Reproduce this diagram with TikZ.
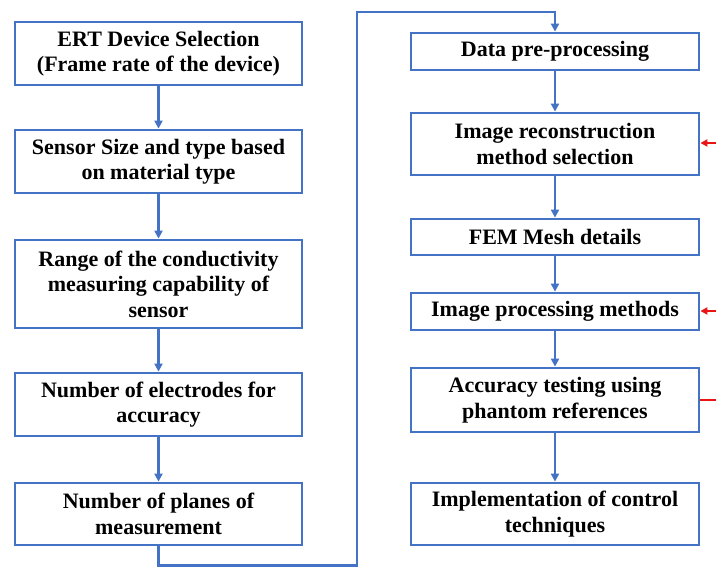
\documentclass[tikz,border=0pt]{standalone}
\usepackage{fontspec}
\setmainfont{Liberation Serif}
\usetikzlibrary{arrows.meta}
\definecolor{boxblue}{RGB}{68,114,196}
\definecolor{fbred}{RGB}{235,20,20}
\tikzset{
  stepbox/.style={draw=boxblue, line width=2.8pt, align=center, inner sep=0pt,
    font=\fontsize{22}{25.5}\selectfont\bfseries},
  conn/.style={draw=boxblue, line width=2.5pt, -{Triangle[length=8pt,width=8pt]}},
  redin/.style={draw=fbred, line width=2pt, -{Triangle[length=7pt,width=7pt]}},
}
\begin{document}
\begin{tikzpicture}[x=1pt,y=-1pt]
\useasboundingbox (0,0) rectangle (716,567);
% left column
\node[stepbox, minimum width=287pt, minimum height=63pt] (b1) at (158.5,53.5) {ERT Device Selection\\(Frame rate of the device)};
\node[stepbox, minimum width=287pt, minimum height=63pt] (b2) at (158.5,161.5) {Sensor Size and type based\\on material type};
\node[stepbox, minimum width=287pt, minimum height=88pt] (b3) at (158.5,284) {Range of the conductivity\\measuring capability of\\sensor};
\node[stepbox, minimum width=287pt, minimum height=63pt] (b4) at (158.5,404.5) {Number of electrodes for\\accuracy};
\node[stepbox, minimum width=287pt, minimum height=62pt] (b5) at (158.5,514) {Number of planes of\\measurement};
% right column
\node[stepbox, minimum width=288pt, minimum height=37pt] (r1) at (555,51.5) {Data pre-processing};
\node[stepbox, minimum width=288pt, minimum height=62pt] (r2) at (555,144) {Image reconstruction\\method selection};
\node[stepbox, minimum width=288pt, minimum height=36pt] (r3) at (555,237) {FEM Mesh details};
\node[stepbox, minimum width=288pt, minimum height=37pt] (r4) at (555,311.5) {Image processing methods};
\node[stepbox, minimum width=288pt, minimum height=64pt] (r5) at (555,400) {Accuracy testing using\\phantom references};
\node[stepbox, minimum width=288pt, minimum height=62pt] (r6) at (555,514) {Implementation of control\\techniques};
% connectors
\draw[conn] (b1) -- (b2);
\draw[conn] (b2) -- (b3);
\draw[conn] (b3) -- (b4);
\draw[conn] (b4) -- (b5);
\coordinate (c1) at (158.5,565.5);
\coordinate (c2) at (357,565.5);
\coordinate (c3) at (357,12);
\coordinate (c4) at (555,12);
\draw[conn] (b5.south) -- (c1) -- (c2) -- (c3) -- (c4) -- (r1.north);
\draw[conn] (r1) -- (r2);
\draw[conn] (r2) -- (r3);
\draw[conn] (r3) -- (r4);
\draw[conn] (r4) -- (r5);
\draw[conn] (r5) -- (r6);
% red feedback inputs
\coordinate (e2) at (716,143);
\coordinate (e4) at (716,311);
\coordinate (e5) at (716,400);
\draw[redin] (e2) -- (r2.east |- e2);
\draw[redin] (e4) -- (r4.east |- e4);
\draw[draw=fbred, line width=2pt] (e5) -- (r5.east |- e5);
\end{tikzpicture}
\end{document}
